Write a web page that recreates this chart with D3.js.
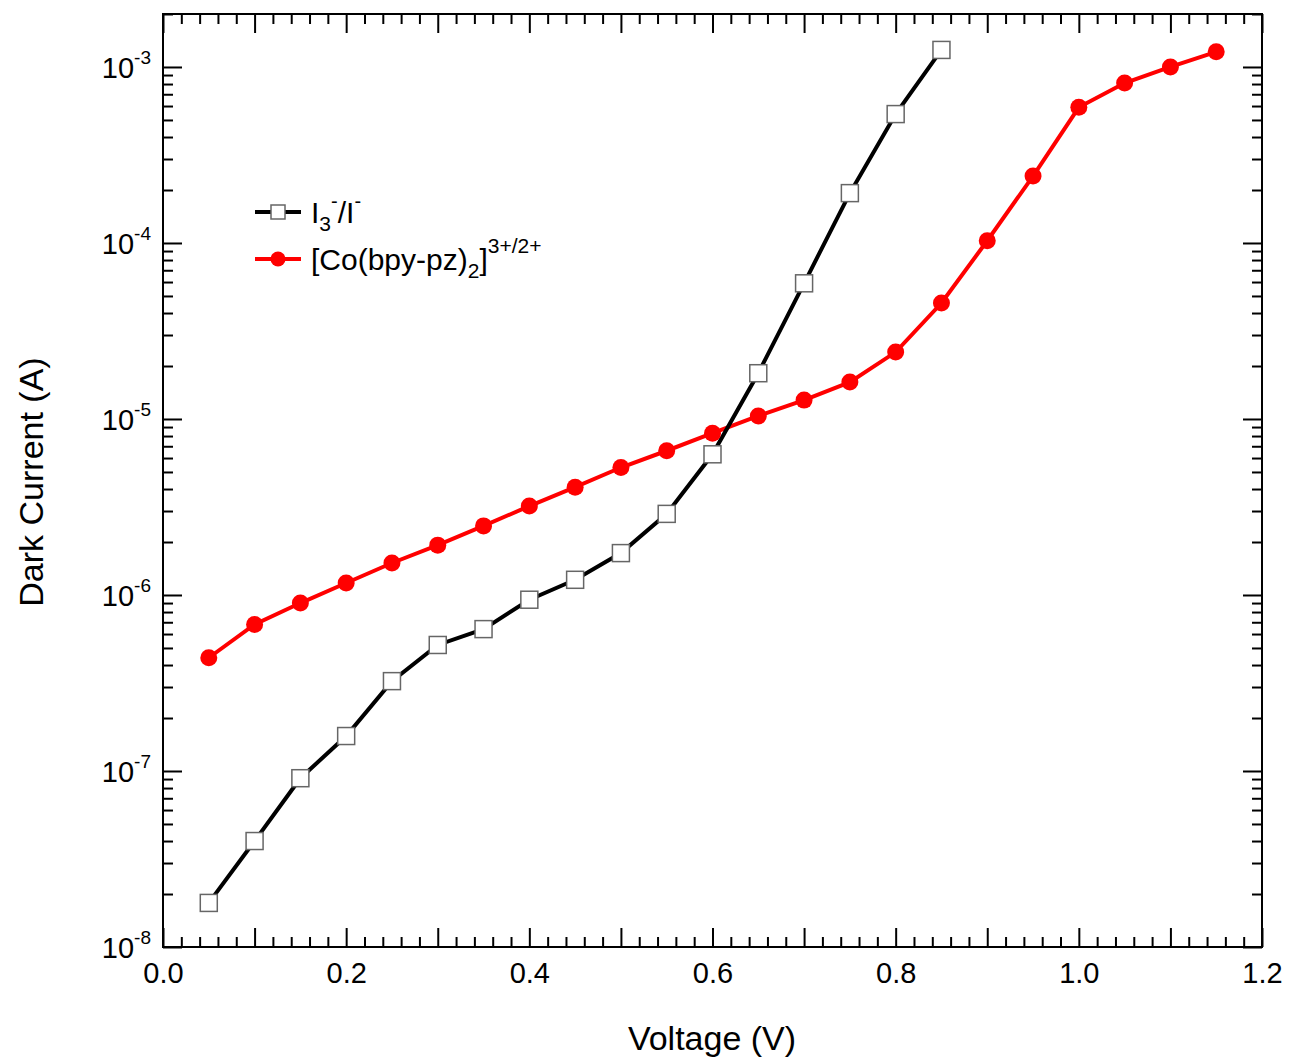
<!DOCTYPE html>
<html>
<head>
<meta charset="utf-8">
<script src="https://cdn.jsdelivr.net/npm/d3@7"></script>
<style>
  body { margin: 0; background: #fff; }
  text { font-family: "Liberation Sans", Arial, Helvetica, sans-serif; fill: #000; }
</style>
</head>
<body>
<script>
// data
const voltI3 = [0.05, 0.10, 0.15, 0.20, 0.25, 0.30, 0.35, 0.40, 0.45, 0.50, 0.55, 0.60, 0.65, 0.70, 0.75, 0.80, 0.85];
const currI3 = [1.78e-8, 4.0e-8, 9.1e-8, 1.58e-7, 3.24e-7, 5.2e-7, 6.4e-7, 9.4e-7, 1.22e-6, 1.73e-6, 2.89e-6, 6.3e-6, 1.82e-5, 5.9e-5, 1.92e-4, 5.4e-4, 1.25e-3];

const voltCo = [0.05, 0.10, 0.15, 0.20, 0.25, 0.30, 0.35, 0.40, 0.45, 0.50, 0.55, 0.60, 0.65, 0.70, 0.75, 0.80, 0.85, 0.90, 0.95, 1.00, 1.05, 1.10, 1.15];
const currCo = [4.4e-7, 6.8e-7, 9.0e-7, 1.17e-6, 1.52e-6, 1.92e-6, 2.47e-6, 3.2e-6, 4.1e-6, 5.3e-6, 6.6e-6, 8.3e-6, 1.04e-5, 1.28e-5, 1.62e-5, 2.40e-5, 4.56e-5, 1.03e-4, 2.40e-4, 5.9e-4, 8.1e-4, 1.0e-3, 1.22e-3];

const xLabelTicks = [0.0, 0.2, 0.4, 0.6, 0.8, 1.0, 1.2];
const yExponents = [-8, -7, -6, -5, -4, -3];

const W = 1291, H = 1062;
const pLeft = 163, pRight = 1262, pTop = 14, pBottom = 947;

const svg = d3.select("body").append("svg")
  .attr("width", W)
  .attr("height", H);

const x = d3.scaleLinear().domain([0, 1.2]).range([pLeft, pRight]);
const y = d3.scaleLog().domain([1e-8, 2e-3]).range([pBottom, pTop]);

// tick sets
const xMinor = d3.range(0, 61).map(i => i * 0.02).filter(v => Math.round(v * 100) % 10 !== 0);
const xMajor = d3.range(0, 13).map(i => i * 0.1);
const yMajor = yExponents.map(e => Math.pow(10, e));
const yMinor = [];
for (let e = -8; e <= -3; e++) {
  for (let m = 2; m <= 9; m++) {
    const v = m * Math.pow(10, e);
    if (v <= 2e-3) yMinor.push(v);
  }
}

function styleAxis(g) {
  g.select(".domain").remove();
  g.selectAll("line").attr("stroke", "#000").attr("stroke-width", 2);
}

// x ticks, bottom and top (pointing inward)
svg.append("g").attr("transform", `translate(0,${pBottom})`)
  .call(d3.axisBottom(x).tickValues(xMinor).tickSize(-10).tickFormat(""))
  .call(styleAxis);
svg.append("g").attr("transform", `translate(0,${pBottom})`)
  .call(d3.axisBottom(x).tickValues(xMajor).tickSize(-19).tickFormat(""))
  .call(styleAxis);
svg.append("g").attr("transform", `translate(0,${pTop})`)
  .call(d3.axisTop(x).tickValues(xMinor).tickSize(-10).tickFormat(""))
  .call(styleAxis);
svg.append("g").attr("transform", `translate(0,${pTop})`)
  .call(d3.axisTop(x).tickValues(xMajor).tickSize(-19).tickFormat(""))
  .call(styleAxis);

// x labels
const xLab = svg.append("g").attr("transform", `translate(0,${pBottom})`)
  .call(d3.axisBottom(x).tickValues(xLabelTicks).tickSize(0).tickPadding(15).tickFormat(d3.format(".1f")));
xLab.select(".domain").remove();
xLab.selectAll("text").attr("font-size", 29).attr("font-family", "Liberation Sans, Arial, sans-serif").attr("fill", "#000");

// y ticks left and right
svg.append("g").attr("transform", `translate(${pLeft},0)`)
  .call(d3.axisLeft(y).tickValues(yMinor).tickSize(-10).tickFormat(""))
  .call(styleAxis);
svg.append("g").attr("transform", `translate(${pLeft},0)`)
  .call(d3.axisLeft(y).tickValues(yMajor).tickSize(-19).tickFormat(""))
  .call(styleAxis);
svg.append("g").attr("transform", `translate(${pRight},0)`)
  .call(d3.axisRight(y).tickValues(yMinor).tickSize(-10).tickFormat(""))
  .call(styleAxis);
svg.append("g").attr("transform", `translate(${pRight},0)`)
  .call(d3.axisRight(y).tickValues(yMajor).tickSize(-19).tickFormat(""))
  .call(styleAxis);

// y labels as 10^n
const yLab = svg.append("g");
yExponents.forEach(e => {
  const t = yLab.append("text")
    .attr("x", pLeft - 12)
    .attr("y", y(Math.pow(10, e)) + 11)
    .attr("text-anchor", "end")
    .attr("font-size", 29);
  t.append("tspan").text("10");
  t.append("tspan").attr("font-size", 19).attr("dy", -14).text(String(e));
});

// frame
svg.append("rect")
  .attr("x", pLeft).attr("y", pTop)
  .attr("width", pRight - pLeft).attr("height", pBottom - pTop)
  .attr("fill", "none").attr("stroke", "#000").attr("stroke-width", 2);

// axis titles
svg.append("text")
  .attr("x", 712)
  .attr("y", 1050)
  .attr("text-anchor", "middle")
  .attr("font-size", 34)
  .text("Voltage (V)");
svg.append("text")
  .attr("transform", `translate(43,482) rotate(-90)`)
  .attr("text-anchor", "middle")
  .attr("font-size", 34)
  .text("Dark Current (A)");

// series
const line = d3.line().x(d => x(d[0])).y(d => y(d[1]));
const dataI3 = voltI3.map((v, i) => [v, currI3[i]]);
const dataCo = voltCo.map((v, i) => [v, currCo[i]]);

svg.append("path").datum(dataCo)
  .attr("d", line).attr("fill", "none").attr("stroke", "#f00").attr("stroke-width", 4);
svg.append("path").datum(dataI3)
  .attr("d", line).attr("fill", "none").attr("stroke", "#000").attr("stroke-width", 4);

svg.selectAll(".co").data(dataCo).enter().append("circle")
  .attr("cx", d => x(d[0])).attr("cy", d => y(d[1]))
  .attr("r", 8.5).attr("fill", "#f00");

const sq = 17;
svg.selectAll(".i3").data(dataI3).enter().append("rect")
  .attr("x", d => x(d[0]) - sq / 2).attr("y", d => y(d[1]) - sq / 2)
  .attr("width", sq).attr("height", sq)
  .attr("fill", "#fff").attr("stroke", "#666").attr("stroke-width", 1.5);

// legend
const leg = svg.append("g");
leg.append("line").attr("x1", 255).attr("x2", 301).attr("y1", 212).attr("y2", 212)
  .attr("stroke", "#000").attr("stroke-width", 4);
leg.append("rect").attr("x", 278 - 7).attr("y", 212 - 7).attr("width", 14).attr("height", 14)
  .attr("fill", "#fff").attr("stroke", "#666").attr("stroke-width", 1.5);
const t1 = leg.append("text").attr("x", 311).attr("y", 223).attr("font-size", 30);
t1.append("tspan").text("I");
t1.append("tspan").attr("font-size", 21).attr("dy", 8).text("3");
t1.append("tspan").attr("font-size", 20).attr("dy", -23).text("-");
t1.append("tspan").attr("font-size", 30).attr("dy", 15).text("/I");
t1.append("tspan").attr("font-size", 20).attr("dy", -15).text("-");

leg.append("line").attr("x1", 255).attr("x2", 301).attr("y1", 259).attr("y2", 259)
  .attr("stroke", "#f00").attr("stroke-width", 4);
leg.append("circle").attr("cx", 278).attr("cy", 259).attr("r", 7.5).attr("fill", "#f00");
const t2 = leg.append("text").attr("x", 311).attr("y", 270).attr("font-size", 30);
t2.append("tspan").text("[Co(bpy-pz)");
t2.append("tspan").attr("font-size", 21).attr("dy", 8).text("2");
t2.append("tspan").attr("font-size", 30).attr("dy", -8).text("]");
t2.append("tspan").attr("font-size", 21).attr("dy", -17).text("3+/2+");
</script>
</body>
</html>
